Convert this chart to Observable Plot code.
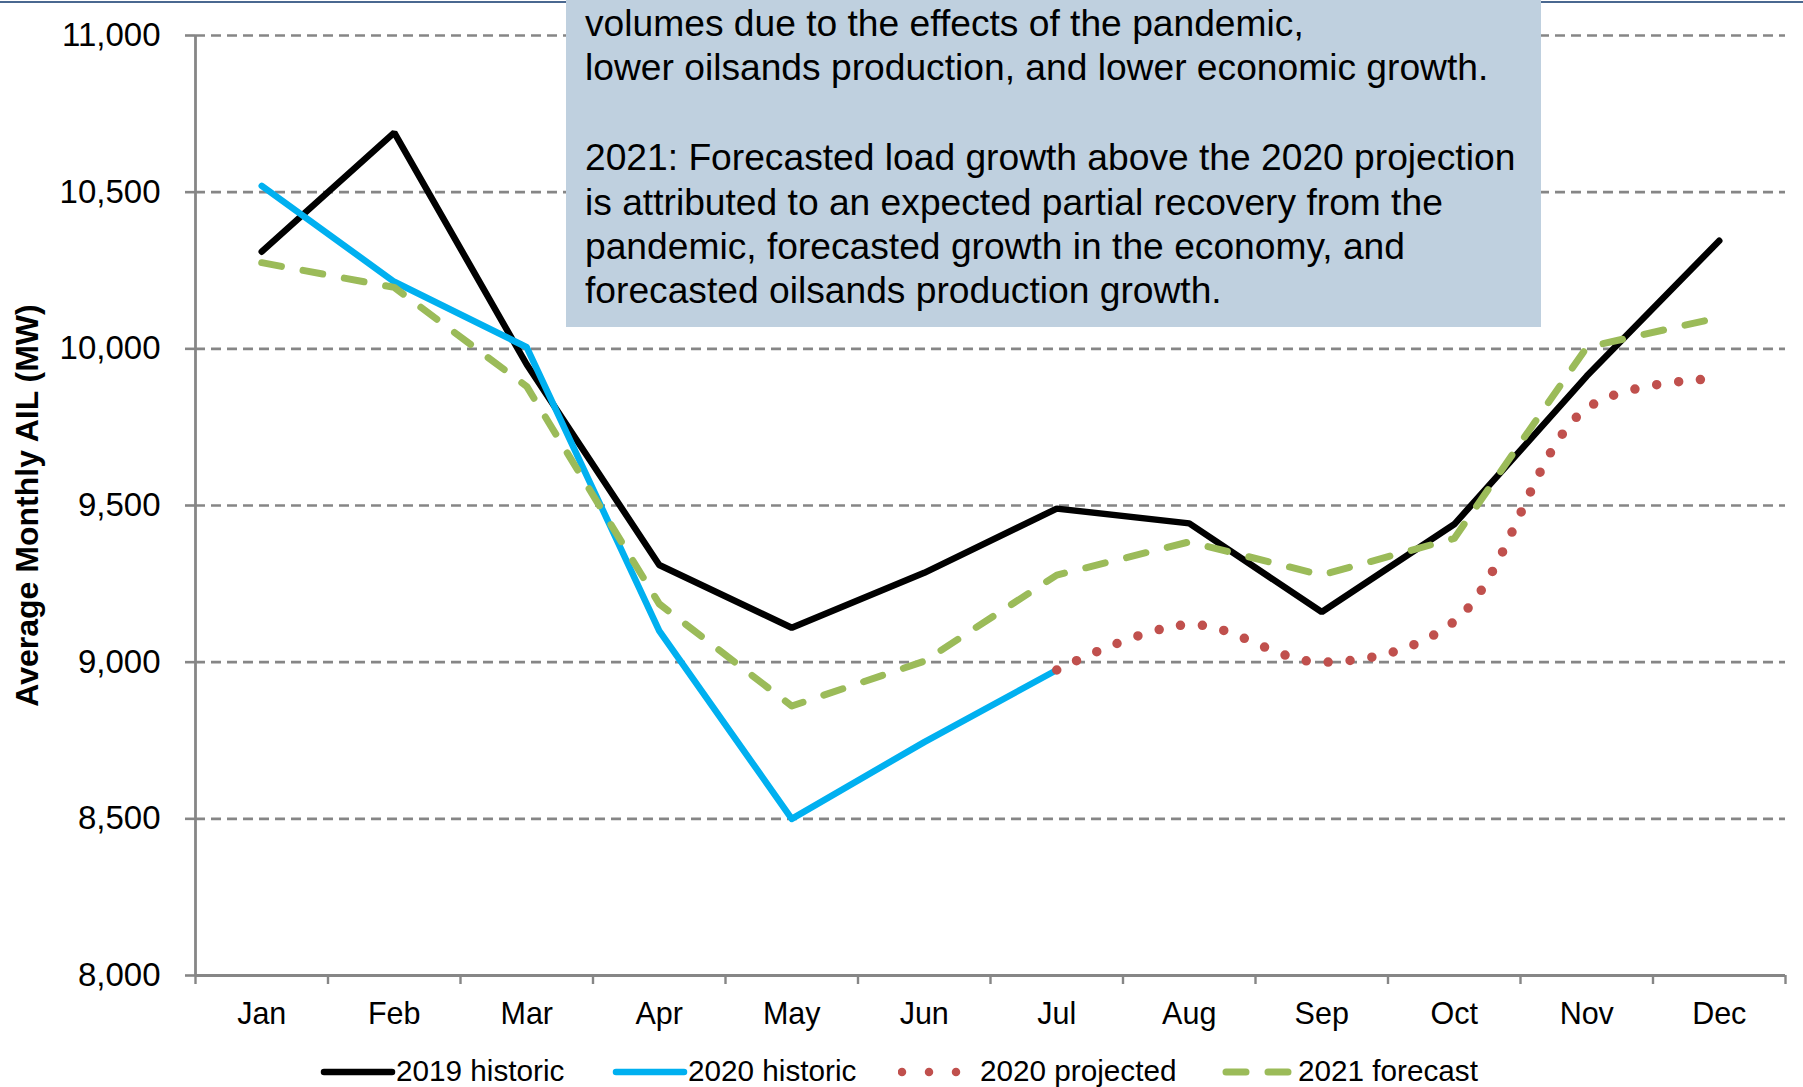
<!DOCTYPE html>
<html>
<head>
<meta charset="utf-8">
<script src="https://cdn.jsdelivr.net/npm/d3@7"></script>
<script src="https://cdn.jsdelivr.net/npm/@observablehq/plot@0.6"></script>
<style>
  html, body { margin: 0; padding: 0; background: #fff; }
  #wrap { position: relative; width: 1803px; height: 1087px; overflow: hidden; font-family: "Liberation Sans", Arial, sans-serif; }
  #topline { position: absolute; left: 0; top: 1px; width: 1803px; height: 2px; background: #4a6890; }
  #chart { position: absolute; left: 0; top: 0; }
  #note { position: absolute; left: 566px; top: 0; width: 975px; height: 327px; background: #bfd0df; }
  #note div { position: absolute; left: 19px; white-space: nowrap; font-size: 37.2px; color: #000; line-height: 1; }
  #legend { position: absolute; left: 0; top: 1054px; width: 1803px; height: 33px; font-size: 29.7px; color: #000; }
  .item { position: absolute; top: 0; display: flex; align-items: center; height: 33px; }
  .item svg { display: block; }
</style>
</head>
<body>
<div id="wrap">
  <div id="topline"></div>
  <div id="chart"></div>
  <div id="note"></div>
  <div id="legend"></div>
</div>
<script>
const months = ["Jan","Feb","Mar","Apr","May","Jun","Jul","Aug","Sep","Oct","Nov","Dec"];
const yTicks = [8000, 8500, 9000, 9500, 10000, 10500, 11000];

const hist2019 = [10310, 10690, 9950, 9310, 9110, 9285, 9490, 9443, 9160, 9440, 9913, 10345];
const hist2020 = [10520, 10214, 10005, 9100, 8500, 8745, 8975];
const proj2020 = [null, null, null, null, null, null, 8975, 9120, 9000, 9130, 9810, 9905];
const fcst2021 = [10275, 10196, 9880, 9186, 8860, 9003, 9278, 9384, 9278, 9395, 10005, 10100];

const seriesNames = ["2019 historic", "2020 historic", "2020 projected", "2021 forecast"];
const seriesColors = ["#000000", "#00b0f0", "#c0504d", "#9bbb59"];

const noteLines = [
  "volumes due to the effects of the pandemic,",
  "lower oilsands production, and lower economic growth.",
  "",
  "2021: Forecasted load growth above the 2020 projection",
  "is attributed to an expected partial recovery from the",
  "pandemic, forecasted growth in the economy, and",
  "forecasted oilsands production growth."
];

const toRows = (arr) => arr.map((v, i) => ({i, v})).filter(d => d.v != null);

const gray = "#868686";
const W = 1803, H = 1045;

const plot = Plot.plot({
  width: W,
  height: H,
  marginLeft: 195,
  marginRight: 18,
  marginTop: 35,
  marginBottom: H - 975,
  style: { fontFamily: "'Liberation Sans', Arial, sans-serif", background: "transparent", color: "#000", overflow: "visible" },
  x: { domain: [-0.5, 11.5] },
  y: { domain: [8000, 11000] },
  marks: [
    Plot.gridY(yTicks.slice(1), { stroke: gray, strokeOpacity: 1, strokeWidth: 2.6, strokeDasharray: "10,6" }),
    Plot.axisY({ ticks: yTicks, tickSize: 10, tickPadding: 25, tickFormat: d3.format(","), fontSize: 33, stroke: gray, strokeWidth: 2.6, label: null }),
    Plot.axisY({ ticks: [], tickSize: 0, label: "Average Monthly AIL (MW)", labelAnchor: "center", labelArrow: "none", labelOffset: 180, fontSize: 32, fontWeight: "bold" }),
    Plot.axisX({ ticks: d3.range(-0.5, 12, 1), tickSize: 9, tickFormat: () => "", stroke: gray, strokeWidth: 2.4, label: null }),
    Plot.axisX({ ticks: d3.range(0, 12), tickSize: 0, tickPadding: 27, tickFormat: i => months[i], fontSize: 30.5, label: null }),
    Plot.ruleX([-0.5], { y1: 8000, y2: 11000, stroke: gray, strokeWidth: 2.8 }),
    Plot.ruleY([8000], { stroke: gray, strokeWidth: 3.2 }),
    Plot.line(toRows(hist2019), { x: "i", y: "v", stroke: seriesColors[0], strokeWidth: 6.5, strokeLinejoin: "miter", strokeLinecap: "round" }),
    Plot.line(toRows(hist2020), { x: "i", y: "v", stroke: seriesColors[1], strokeWidth: 6.5, strokeLinejoin: "round", strokeLinecap: "round" }),
    Plot.line(toRows(proj2020), { x: "i", y: "v", stroke: seriesColors[2], strokeWidth: 9.5, strokeDasharray: "0,22", strokeLinecap: "round", curve: "catmull-rom" }),
    Plot.line(toRows(fcst2021), { x: "i", y: "v", stroke: seriesColors[3], strokeWidth: 7, strokeDasharray: "20,22", strokeLinecap: "round" })
  ]
});
document.getElementById("chart").appendChild(plot);

// note box text
const note = document.getElementById("note");
const lineTops = [5, 49, 94, 139, 184, 228, 272];
noteLines.forEach((t, k) => {
  if (!t) return;
  const d = document.createElement("div");
  d.textContent = t;
  d.style.top = lineTops[k] + "px";
  note.appendChild(d);
});

// legend
const legend = document.getElementById("legend");
const legendX = [320, 612, 898, 1222];
seriesNames.forEach((name, k) => {
  const item = document.createElement("div");
  item.className = "item";
  item.style.left = legendX[k] + "px";
  const ns = "http://www.w3.org/2000/svg";
  const svg = document.createElementNS(ns, "svg");
  const sw = k === 2 ? 82 : 76;
  svg.setAttribute("width", sw);
  svg.setAttribute("height", 33);
  const ln = document.createElementNS(ns, "line");
  ln.setAttribute("x1", 4);
  ln.setAttribute("x2", k === 2 ? 62 : 72);
  ln.setAttribute("y1", 18);
  ln.setAttribute("y2", 18);
  ln.setAttribute("stroke", seriesColors[k]);
  ln.setAttribute("stroke-linecap", "round");
  if (k === 2) { ln.setAttribute("stroke-width", 8.5); ln.setAttribute("stroke-dasharray", "0,27"); }
  else if (k === 3) { ln.setAttribute("stroke-width", 7); ln.setAttribute("stroke-dasharray", "20,22"); }
  else { ln.setAttribute("stroke-width", 6.5); }
  svg.appendChild(ln);
  item.appendChild(svg);
  const sp = document.createElement("span");
  sp.textContent = name;
  item.appendChild(sp);
  legend.appendChild(item);
});
</script>
</body>
</html>
